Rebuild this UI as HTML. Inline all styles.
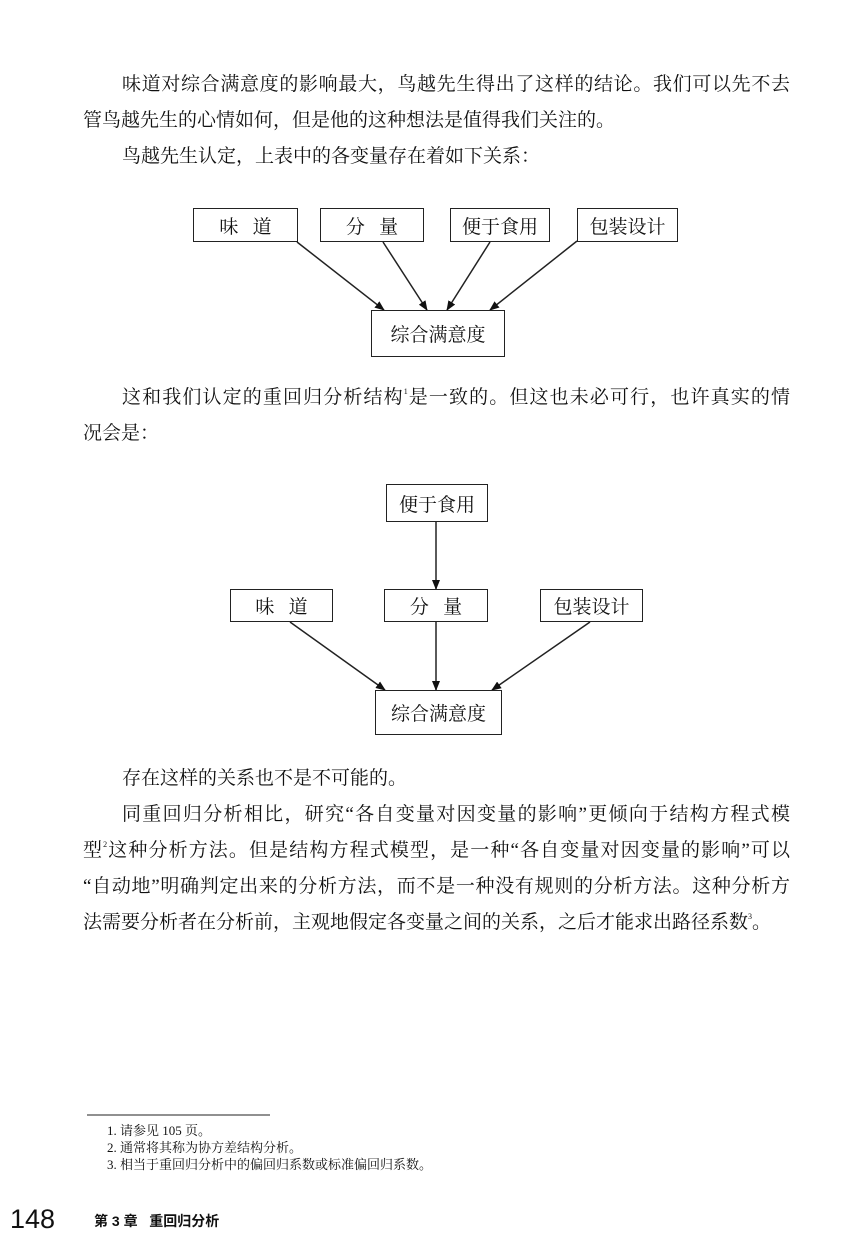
<!DOCTYPE html>
<html><head><meta charset="utf-8"><style>
body{margin:0;width:850px;height:1238px;background:#fff;position:relative;overflow:hidden;font-family:"Liberation Serif","Noto Serif CJK SC",serif;color:#111}
.l{position:absolute;font-size:19px;line-height:26px;height:26px;white-space:nowrap}
.j{text-align:justify;text-align-last:justify;white-space:normal}
.b{position:absolute;border:1.5px solid #222;box-sizing:border-box;font-family:"Liberation Serif","Noto Serif CJK SC",serif;font-size:19px;display:flex;align-items:center;justify-content:center;background:#fff}
.f{position:absolute;left:107px;font-size:13px;line-height:17px;white-space:nowrap;font-family:"Liberation Serif","Noto Serif CJK SC",serif}
.s{font-size:8px;line-height:0;position:relative;top:-9px}
</style></head><body>
<div class="l j" style="left:122px;width:668px;top:72px">味道对综合满意度的影响最大，鸟越先生得出了这样的结论。我们可以先不去</div>
<div class="l" style="left:83px;top:108px">管鸟越先生的心情如何，但是他的这种想法是值得我们关注的。</div>
<div class="l" style="left:122px;top:144px">鸟越先生认定，上表中的各变量存在着如下关系：</div>

<svg style="position:absolute;left:0;top:0" width="850" height="1238">
<defs><marker id="a" markerWidth="10" markerHeight="8" refX="9" refY="4" orient="auto" markerUnits="userSpaceOnUse"><path d="M0,0L10,4L0,8z" fill="#111"/></marker></defs>
<g stroke="#222" stroke-width="1.5" marker-end="url(#a)">
<line x1="297" y1="242" x2="384" y2="310"/>
<line x1="383" y1="242" x2="427" y2="310"/>
<line x1="490" y1="242" x2="447" y2="310"/>
<line x1="577" y1="241" x2="490" y2="310"/>
<line x1="436" y1="522" x2="436" y2="589"/>
<line x1="436" y1="622" x2="436" y2="690"/>
<line x1="290" y1="622" x2="385" y2="690"/>
<line x1="590" y1="622" x2="492" y2="690"/>
</g>
<line x1="87" y1="1115" x2="270" y2="1115" stroke="#222" stroke-width="1"/>
</svg>

<div class="b" style="left:193px;top:208px;width:105px;height:34px">味&nbsp;&nbsp;&nbsp;道</div>
<div class="b" style="left:320px;top:208px;width:104px;height:34px">分&nbsp;&nbsp;&nbsp;量</div>
<div class="b" style="left:450px;top:208px;width:100px;height:34px">便于食用</div>
<div class="b" style="left:577px;top:208px;width:101px;height:34px">包装设计</div>
<div class="b" style="left:371px;top:310px;width:134px;height:47px">综合满意度</div>

<div class="l j" style="left:122px;width:668px;top:385px">这和我们认定的重回归分析结构<span class="s">1</span>是一致的。但这也未必可行，也许真实的情</div>
<div class="l" style="left:83px;top:421px">况会是：</div>

<div class="b" style="left:386px;top:484px;width:102px;height:38px">便于食用</div>
<div class="b" style="left:230px;top:589px;width:103px;height:33px">味&nbsp;&nbsp;&nbsp;道</div>
<div class="b" style="left:384px;top:589px;width:104px;height:33px">分&nbsp;&nbsp;&nbsp;量</div>
<div class="b" style="left:540px;top:589px;width:103px;height:33px">包装设计</div>
<div class="b" style="left:375px;top:690px;width:127px;height:45px">综合满意度</div>

<div class="l" style="left:122px;top:766px">存在这样的关系也不是不可能的。</div>
<div class="l j" style="left:122px;width:668px;top:802px">同重回归分析相比，研究“各自变量对因变量的影响”更倾向于结构方程式模</div>
<div class="l j" style="left:83px;width:707px;top:838px">型<span class="s">2</span>这种分析方法。但是结构方程式模型，是一种“各自变量对因变量的影响”可以</div>
<div class="l j" style="left:83px;width:707px;top:874px">“自动地”明确判定出来的分析方法，而不是一种没有规则的分析方法。这种分析方</div>
<div class="l" style="left:83px;top:910px">法需要分析者在分析前，主观地假定各变量之间的关系，之后才能求出路径系数<span class="s">3</span>。</div>

<div class="f" style="top:1122px">1. 请参见 105 页。</div>
<div class="f" style="top:1139px">2. 通常将其称为协方差结构分析。</div>
<div class="f" style="top:1156px">3. 相当于重回归分析中的偏回归系数或标准偏回归系数。</div>

<div style="position:absolute;left:10px;top:1204px;font-size:27px;line-height:30px;font-family:'Liberation Sans',sans-serif">148</div>
<div style="position:absolute;left:94px;top:1212px;font-size:14px;line-height:18px;font-weight:bold;font-family:'Liberation Sans','Noto Sans CJK SC',sans-serif;white-space:nowrap">第 3 章&nbsp;&nbsp;&nbsp;重回归分析</div>
</body></html>
